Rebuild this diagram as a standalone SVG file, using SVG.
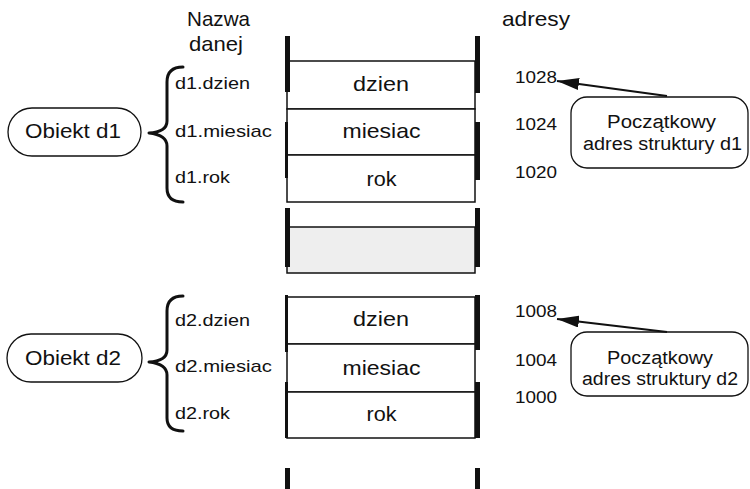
<svg xmlns="http://www.w3.org/2000/svg" width="750" height="489" viewBox="0 0 750 489">
  <style>
    text { font-family: "Liberation Sans", Arial, sans-serif; fill: #111; }
    .hdr { font-size: 21px; }
    .cell { font-size: 21px; text-anchor: middle; }
    .lbl { font-size: 17px; }
    .addr { font-size: 17px; }
    .obj { font-size: 20px; }
    .note { font-size: 18px; }
    .box { fill: #fff; stroke: #111; stroke-width: 1.5; }
    .gap { fill: #eeeeee; stroke: #111; stroke-width: 1.5; }
    .bar { fill: #111; }
    .brace { fill: none; stroke: #111; stroke-width: 3; stroke-linecap: round; stroke-linejoin: round; }
    .oval { fill: #fff; stroke: #111; stroke-width: 1.3; }
    .arrow { fill: none; stroke: #111; stroke-width: 2.2; marker-end: url(#head); }
  </style>
  <defs>
    <marker id="head" viewBox="0 0 22 12" refX="22" refY="6" markerWidth="22" markerHeight="12" markerUnits="userSpaceOnUse" orient="auto">
      <path d="M0,0 L22,6 L0,12 z" fill="#111"/>
    </marker>
  </defs>

  <rect width="750" height="489" fill="#fff"/>

  <!-- column headings -->
  <g id="headings">
    <text class="hdr" x="187" y="26" textLength="63" lengthAdjust="spacingAndGlyphs">Nazwa</text>
    <text class="hdr" x="189" y="51" textLength="54" lengthAdjust="spacingAndGlyphs">danej</text>
    <text class="hdr" x="502" y="26" textLength="68" lengthAdjust="spacingAndGlyphs">adresy</text>
  </g>

  <!-- memory: structure d1 -->
  <g id="mem-d1">
    <rect class="box" x="287" y="61" width="188" height="48"/>
    <rect class="box" x="287" y="109" width="188" height="46"/>
    <rect class="box" x="287" y="155" width="188" height="47"/>
    <rect class="bar" x="285" y="36" width="5" height="56"/>
    <rect class="bar" x="475" y="36" width="5" height="57"/>
    <rect class="bar" x="285" y="122" width="3" height="56"/>
    <rect class="bar" x="475" y="122" width="5" height="58"/>
    <text class="cell" x="381" y="91" textLength="56" lengthAdjust="spacingAndGlyphs">dzien</text>
    <text class="cell" x="381.5" y="138" textLength="78" lengthAdjust="spacingAndGlyphs">miesiac</text>
    <text class="cell" x="381.5" y="186" textLength="30" lengthAdjust="spacingAndGlyphs">rok</text>
  </g>

  <!-- memory: unused gap between structures -->
  <g id="mem-gap">
    <rect class="gap" x="287" y="227" width="188" height="46"/>
    <rect class="bar" x="285" y="208" width="5" height="59"/>
    <rect class="bar" x="475" y="208" width="5" height="59"/>
  </g>

  <!-- memory: structure d2 -->
  <g id="mem-d2">
    <rect class="box" x="287" y="297" width="188" height="47"/>
    <rect class="box" x="287" y="344" width="188" height="48"/>
    <rect class="box" x="287" y="392" width="188" height="46"/>
    <rect class="bar" x="285" y="295" width="3" height="57"/>
    <rect class="bar" x="475" y="295" width="5" height="55"/>
    <rect class="bar" x="285" y="382" width="3" height="56"/>
    <rect class="bar" x="475" y="382" width="5" height="56"/>
    <text class="cell" x="381" y="326" textLength="56" lengthAdjust="spacingAndGlyphs">dzien</text>
    <text class="cell" x="381.5" y="375" textLength="78" lengthAdjust="spacingAndGlyphs">miesiac</text>
    <text class="cell" x="381.5" y="421" textLength="30" lengthAdjust="spacingAndGlyphs">rok</text>
  </g>

  <!-- memory continues below -->
  <g id="mem-tail">
    <rect class="bar" x="285" y="468" width="5" height="21"/>
    <rect class="bar" x="475" y="468" width="5" height="21"/>
  </g>

  <!-- object d1 with its field names -->
  <g id="obj-d1">
    <rect class="oval" x="8" y="108" width="133" height="48" rx="24" ry="24"/>
    <text class="obj" x="25" y="138" textLength="96" lengthAdjust="spacingAndGlyphs">Obiekt d1</text>
    <path class="brace" d="M183,67 Q167,67 167,82 L167,121 Q167,132 149,133 Q167,135 167,146 L167,188 Q167,202 183,202"/>
    <text class="lbl" x="175" y="89" textLength="75" lengthAdjust="spacingAndGlyphs">d1.dzien</text>
    <text class="lbl" x="175" y="137" textLength="97" lengthAdjust="spacingAndGlyphs">d1.miesiac</text>
    <text class="lbl" x="175" y="183" textLength="55" lengthAdjust="spacingAndGlyphs">d1.rok</text>
  </g>

  <!-- object d2 with its field names -->
  <g id="obj-d2">
    <rect class="oval" x="7" y="334" width="135" height="48" rx="24" ry="24"/>
    <text class="obj" x="25" y="365" textLength="96" lengthAdjust="spacingAndGlyphs">Obiekt d2</text>
    <path class="brace" d="M183,296 Q167,296 167,311 L167,350 Q167,361 149,362 Q167,364 167,375 L167,418 Q167,431 183,431"/>
    <text class="lbl" x="175" y="326" textLength="75" lengthAdjust="spacingAndGlyphs">d2.dzien</text>
    <text class="lbl" x="175" y="372" textLength="97" lengthAdjust="spacingAndGlyphs">d2.miesiac</text>
    <text class="lbl" x="175" y="419" textLength="55" lengthAdjust="spacingAndGlyphs">d2.rok</text>
  </g>

  <!-- addresses -->
  <g id="addresses">
    <text class="addr" x="515" y="83" textLength="42" lengthAdjust="spacingAndGlyphs">1028</text>
    <text class="addr" x="515" y="130" textLength="42" lengthAdjust="spacingAndGlyphs">1024</text>
    <text class="addr" x="515" y="178" textLength="42" lengthAdjust="spacingAndGlyphs">1020</text>
    <text class="addr" x="515" y="317" textLength="42" lengthAdjust="spacingAndGlyphs">1008</text>
    <text class="addr" x="515" y="366" textLength="42" lengthAdjust="spacingAndGlyphs">1004</text>
    <text class="addr" x="515" y="403" textLength="42" lengthAdjust="spacingAndGlyphs">1000</text>
  </g>

  <!-- start-address callouts -->
  <g id="note-d1">
    <rect class="oval" x="571" y="97" width="177" height="71" rx="16" ry="16"/>
    <text class="note" x="607" y="128" textLength="109" lengthAdjust="spacingAndGlyphs">Początkowy</text>
    <text class="note" x="583" y="150" textLength="159" lengthAdjust="spacingAndGlyphs">adres struktury d1</text>
  </g>
  <g id="note-d2">
    <rect class="oval" x="571" y="332" width="177" height="64" rx="16" ry="16"/>
    <text class="note" x="607" y="364" textLength="106" lengthAdjust="spacingAndGlyphs">Początkowy</text>
    <text class="note" x="582" y="385" textLength="156" lengthAdjust="spacingAndGlyphs">adres struktury d2</text>
  </g>

  <!-- connectors -->
  <g id="connectors">
    <line class="arrow" x1="667" y1="96" x2="557" y2="81"/>
    <line class="arrow" x1="667" y1="332" x2="557" y2="319"/>
  </g>
</svg>
